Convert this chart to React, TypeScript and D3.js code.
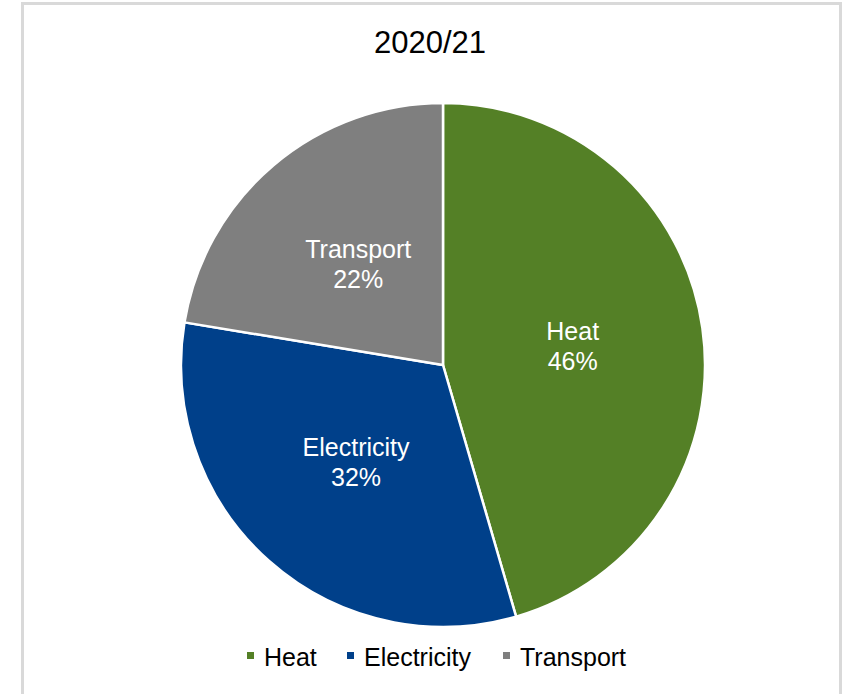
import React from "react";
import * as d3 from "d3";

const categories = ["Heat", "Electricity", "Transport"];
const values = [45.5, 32.1, 22.4];
const colors = ["#548026", "#00408A", "#7F7F7F"];
const title = "2020/21";

const W = 850;
const H = 694;
const cx = 443;
const cy = 365;
const R = 262;
const FONT = "Liberation Sans, Arial, sans-serif";
const legendX = [247, 347, 503];

export default function App() {
  const pie = d3
    .pie<number>()
    .sort(null)
    .value((d) => d);
  const arcs = pie(values);
  const total = d3.sum(values);
  const arc = d3.arc<d3.PieArcDatum<number>>().innerRadius(0).outerRadius(R);
  const labelArc = d3
    .arc<d3.PieArcDatum<number>>()
    .innerRadius(R * 0.5)
    .outerRadius(R * 0.5);

  return (
    <svg
      width={W}
      height={H}
      style={{ position: "absolute", left: 0, top: 0, display: "block" }}
      fontFamily={FONT}
    >
      <rect x={0} y={0} width={W} height={H} fill="#ffffff" />
      <rect
        x={22.5}
        y={3.5}
        width={818}
        height={692}
        fill="#ffffff"
        stroke="#d9d9d9"
        strokeWidth={3}
      />
      <text x={430} y={53} textAnchor="middle" fontSize={31} fill="#000000">
        {title}
      </text>
      <g transform={`translate(${cx},${cy})`}>
        {arcs.map((a, i) => (
          <path
            key={categories[i]}
            d={arc(a) || ""}
            fill={colors[i]}
            stroke="#ffffff"
            strokeWidth={2.5}
            strokeLinejoin="round"
          />
        ))}
        {arcs.map((a, i) => {
          const [lx, ly] = labelArc.centroid(a);
          return (
            <text
              key={"l" + categories[i]}
              x={lx}
              y={ly}
              textAnchor="middle"
              fontSize={25}
              fill="#ffffff"
            >
              <tspan x={lx} dy={-7}>
                {categories[i]}
              </tspan>
              <tspan x={lx} dy={30}>
                {Math.round((values[i] / total) * 100) + "%"}
              </tspan>
            </text>
          );
        })}
      </g>
      <g>
        {categories.map((c, i) => (
          <g key={"lg" + c}>
            <rect x={legendX[i]} y={652} width={7} height={7} fill={colors[i]} />
            <text x={legendX[i] + 17} y={666} fontSize={25} fill="#000000">
              {c}
            </text>
          </g>
        ))}
      </g>
    </svg>
  );
}
